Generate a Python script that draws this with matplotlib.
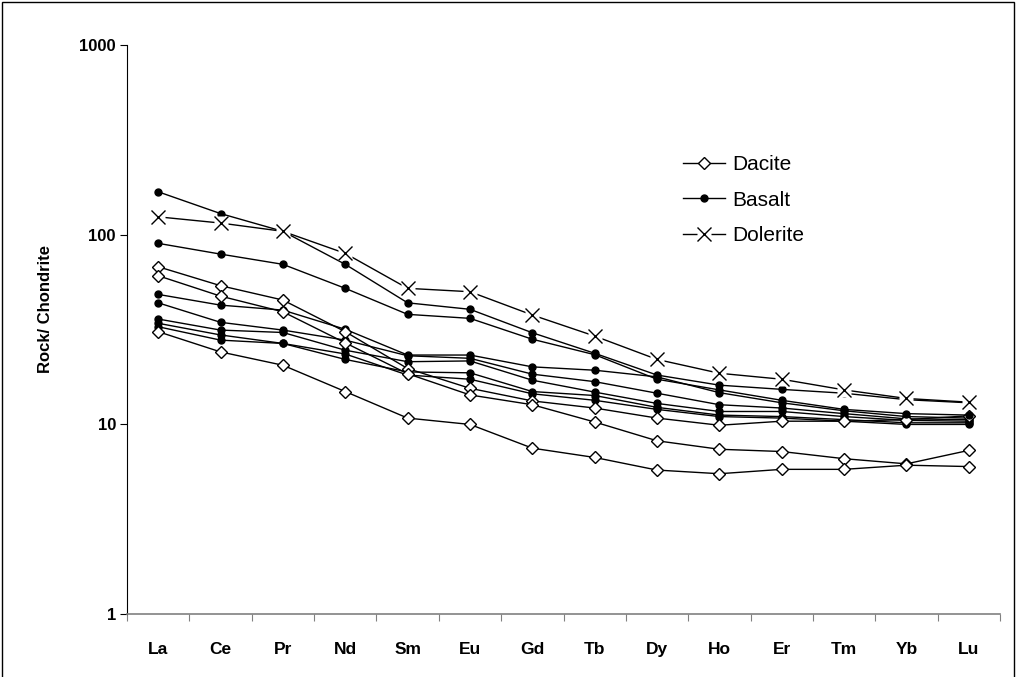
import numpy as np
import matplotlib.pyplot as plt
from matplotlib.patches import Rectangle
from matplotlib.lines import Line2D
from matplotlib.legend_handler import HandlerTuple

plt.rcParams['font.family'] = ['Liberation Sans', 'DejaVu Sans']

# REE pattern, chondrite normalised
elements = ["La", "Ce", "Pr", "Nd", "Sm", "Eu", "Gd", "Tb", "Dy", "Ho", "Er", "Tm", "Yb", "Lu"]

dacite_1 = [67.7, 53.8, 45.2, 30.8, 19.7, 15.5, 13.3, 12.2, 10.8, 9.9, 10.4, 10.4, 10.6, 11.1]
dacite_2 = [60.7, 47.4, 39.2, 26.9, 18.5, 14.3, 12.7, 10.3, 8.2, 7.4, 7.2, 6.6, 6.2, 7.3]
dacite_3 = [30.8, 24.1, 20.5, 14.9, 10.8, 10.0, 7.5, 6.7, 5.75, 5.5, 5.8, 5.8, 6.1, 6.0]

basalt_1 = [168, 129, 104, 69.7, 43.7, 40.4, 30.4, 23.7, 18.2, 16.1, 15.3, 14.6, 13.5, 13.0]
basalt_2 = [89.9, 78.9, 69.7, 52.1, 38.0, 36.2, 28.1, 23.3, 17.3, 15.2, 13.4, 12.0, 11.4, 11.2]
basalt_3 = [48.4, 42.5, 40.0, 31.7, 23.2, 23.2, 20.1, 19.3, 17.8, 14.7, 13.0, 11.8, 11.0, 10.8]
basalt_4 = [43.7, 34.5, 31.4, 27.8, 23.0, 22.3, 18.4, 16.8, 14.6, 12.7, 12.2, 11.4, 10.7, 10.6]
basalt_5 = [35.9, 31.4, 30.5, 24.6, 21.4, 21.6, 17.1, 14.8, 12.9, 11.7, 11.7, 11.0, 10.5, 10.4]
basalt_6 = [34.1, 29.6, 26.7, 22.0, 18.9, 18.7, 14.9, 14.2, 12.3, 11.2, 11.0, 10.6, 10.2, 10.2]
basalt_7 = [32.7, 27.8, 26.7, 23.5, 18.2, 17.3, 14.5, 13.4, 12.0, 11.0, 10.8, 10.4, 10.0, 10.0]

dolerite = [124, 115, 104, 79.6, 52.1, 50.0, 37.7, 29.2, 22.0, 18.6, 17.3, 15.2, 13.7, 13.1]

dacites = [dacite_1, dacite_2, dacite_3]
basalts = [basalt_1, basalt_2, basalt_3, basalt_4, basalt_5, basalt_6, basalt_7]

fig = plt.figure(figsize=(10.16, 6.77), dpi=100)
ax = fig.add_axes([127 / 1016, 62.7 / 677, 873 / 1016, 569.6 / 677])

x = np.arange(len(elements))

dac_style = dict(color="black", lw=1.0, marker="D", ms=6.5, mfc="white", mec="black", mew=1.0)
bas_style = dict(color="black", lw=1.0, marker="o", ms=5, mfc="black", mec="black")

for vals in basalts[2:]:
    ax.plot(x, vals, **bas_style, zorder=3)
for vals in dacites:
    ax.plot(x, vals, **dac_style, zorder=3)
for vals in basalts[:2]:
    ax.plot(x, vals, **bas_style, zorder=3)

# dolerite: line, white box behind each cross, then the cross
ax.plot(x, dolerite, color="black", lw=1.0, zorder=4)
ax.plot(x, dolerite, ls="none", marker="s", ms=10.5, mfc="white", mec="none", zorder=5)
ax.plot(x, dolerite, ls="none", marker="x", ms=10.5, mec="black", mew=1.0, zorder=6)

ax.set_yscale("log")
ax.set_ylim(1, 1000)
ax.set_xlim(-0.5, len(elements) - 0.5)

ax.set_yticks([1, 10, 100, 1000])
ax.set_yticklabels(["1", "10", "100", "1000"], fontweight="bold", fontsize=12)
ax.yaxis.set_minor_locator(plt.NullLocator())
ax.tick_params(axis="y", direction="out", length=5, width=0.8, pad=3)

ax.set_xticks(np.arange(-0.5, len(elements), 1))
ax.set_xticklabels([])
ax.set_xticks(x, minor=True)
ax.set_xticklabels(elements, minor=True, fontweight="bold", fontsize=12.5)
ax.tick_params(axis="x", which="major", direction="out", length=5, width=0.8, color="#808080")
ax.tick_params(axis="x", which="minor", length=0, pad=20)

ax.spines["top"].set_visible(False)
ax.spines["right"].set_visible(False)
ax.spines["left"].set_linewidth(0.8)
ax.spines["bottom"].set_color("#808080")
ax.spines["bottom"].set_linewidth(1.2)

fig.text(45 / 1016, 1 - 309 / 677, "Rock/ Chondrite", rotation=90,
         ha="center", va="center", fontweight="bold", fontsize=12)

# legend
h_dac = Line2D([], [], **dac_style)
h_bas = Line2D([], [], **bas_style)
h_dol = (Line2D([], [], color="black", lw=1.0),
         Line2D([], [], ls="none", marker="s", ms=10.5, mfc="white", mec="none"),
         Line2D([], [], ls="none", marker="x", ms=10.5, mec="black", mew=1.0))
ax.legend([h_dac, h_bas, h_dol], ["Dacite", "Basalt", "Dolerite"],
          handler_map={tuple: HandlerTuple(ndivide=1)},
          loc="upper left", bbox_to_anchor=(683 / 1016, 1 - 155 / 677),
          bbox_transform=fig.transFigure, frameon=False, fontsize=15,
          numpoints=1, handlelength=2.0, handletextpad=0.35, labelspacing=0.8,
          borderpad=0, borderaxespad=0)

# frame around the whole chart
fig.patches.append(Rectangle((2 / 1016, -0.05), 1012 / 1016, 1.05 - 2 / 677,
                             transform=fig.transFigure, fill=False,
                             edgecolor="black", lw=1.0))

fig.savefig("out.png", dpi=100)
